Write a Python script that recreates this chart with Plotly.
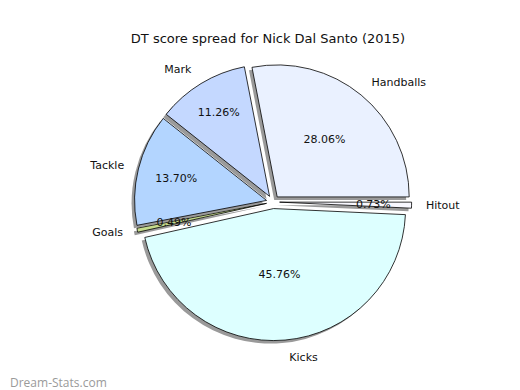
import plotly.graph_objects as go

# ---- data ----
labels = ["Hitout", "Handballs", "Mark", "Tackle", "Goals", "Kicks"]
values = [0.73, 28.06, 11.26, 13.70, 0.49, 45.76]
title_text = "DT score spread for Nick Dal Santo (2015)"
watermark = "Dream-Stats.com"

# ---- styles ----
colors = ["#F8F8FF", "#EAF1FF", "#C4D8FF", "#B3D5FF", "#C5DB8C", "#DDFFFF"]
explode = [0.05, 0.05, 0.05, 0.05, 0.05, 0.05]
W, H = 520, 390
cx, cy, R = 265, 194, 132
CLEAR = ["rgba(0,0,0,0)"] * len(values)
FONT = dict(family="DejaVu Sans", size=11, color="#111111")


def dom(r, dx=0, dy=0):
    half = r * (1 + max(explode))
    x0 = (cx + dx - half) / W
    x1 = (cx + dx + half) / W
    y0 = (H - (cy + dy) - half) / H
    y1 = (H - (cy + dy) + half) / H
    return dict(x=[x0, x1], y=[y0, y1])


common = dict(labels=labels, values=values, sort=False, direction="counterclockwise",
              rotation=90, pull=explode, hoverinfo="skip", showlegend=False)

total = sum(values)
pct = ["%.2f%%" % (100 * v / total) for v in values]
small = [v / total < 0.01 for v in values]
pct_big = ["" if s else p for p, s in zip(pct, small)]
pct_small = [p if s else "" for p, s in zip(pct, small)]

fig = go.Figure()
# shadow
fig.add_trace(go.Pie(**common, domain=dom(R, -3, 3),
                     marker=dict(colors=["#9a9a9a"] * len(values), line=dict(width=0)),
                     textinfo="none"))
# main slices
fig.add_trace(go.Pie(**common, domain=dom(R),
                     marker=dict(colors=colors, line=dict(color="#000000", width=0.8)),
                     textinfo="none"))
# outer category labels
fig.add_trace(go.Pie(**common, domain=dom(R * 1.08),
                     marker=dict(colors=CLEAR, line=dict(width=0)),
                     texttemplate="%{label}", textposition="outside", textfont=FONT))
# percentages for the larger slices
fig.add_trace(go.Pie(**common, domain=dom(R), text=pct_big,
                     marker=dict(colors=CLEAR, line=dict(width=0)),
                     texttemplate="%{text}", textposition="inside",
                     insidetextorientation="horizontal", textfont=FONT))
# percentages for the thin slices, nearer the centre
fig.add_trace(go.Pie(**common, domain=dom(R * 0.74), text=pct_small,
                     marker=dict(colors=CLEAR, line=dict(width=0)),
                     texttemplate="%{text}", textposition="inside",
                     insidetextorientation="horizontal", textfont=FONT))

fig.update_layout(
    width=W, height=H,
    margin=dict(l=0, r=0, t=0, b=0),
    paper_bgcolor="white", plot_bgcolor="white",
    title=dict(text=title_text, x=0.5, xanchor="center", y=1 - 30 / H, yanchor="middle",
               font=dict(family="DejaVu Sans", size=13, color="#111111")),
    uniformtext=dict(minsize=11, mode="show"),
    annotations=[dict(text=watermark, x=0, y=0, xref="paper", yref="paper",
                      xanchor="left", yanchor="bottom", showarrow=False, yshift=5,
                      font=dict(family="Open Sans", size=12, color="#9a9a9a"))],
)

fig.write_html("out.html")
